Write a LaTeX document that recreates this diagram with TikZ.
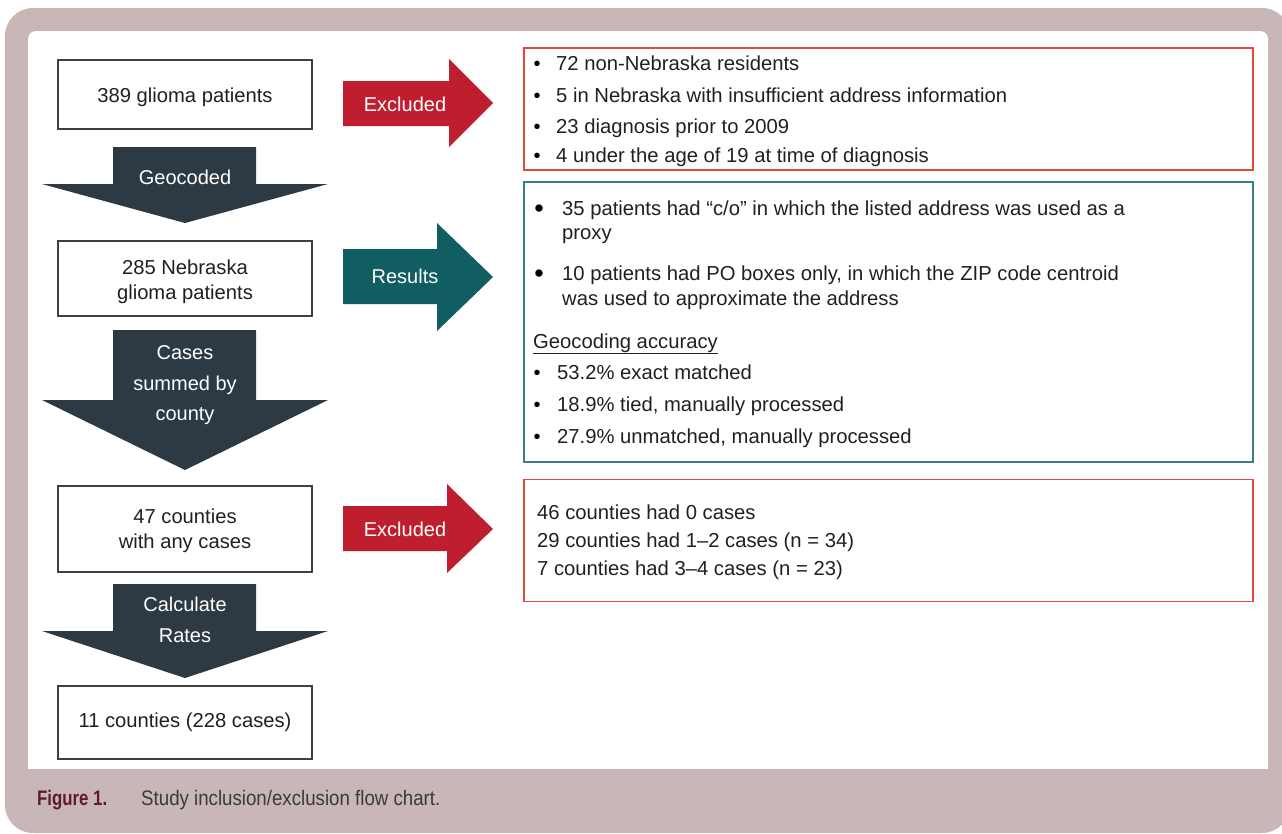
\documentclass[tikz,border=0pt]{standalone}
\usepackage{fontspec}
\setmainfont{Liberation Sans}
\definecolor{framec}{HTML}{C9B7B7}
\definecolor{redarrow}{HTML}{BE1E2D}
\definecolor{tealarrow}{HTML}{105E61}
\definecolor{darkarrow}{HTML}{2E3A43}
\definecolor{redborder}{HTML}{E2493B}
\definecolor{tealborder}{HTML}{3B8084}
\definecolor{boxgray}{HTML}{404040}
\definecolor{textc}{HTML}{231F20}
\definecolor{capmaroon}{HTML}{5E1B30}
\definecolor{captext}{HTML}{3A3A3A}
\tikzset{
  lbox/.style={draw=boxgray, line width=1.1pt, fill=white, minimum width=254pt, inner sep=0pt},
  ltxt/.style={anchor=base, inner sep=0pt, text=textc, font=\fontsize{20.2}{24}\selectfont},
  rbox/.style={line width=1.1pt, minimum width=729pt, inner sep=0pt},
  txt/.style={anchor=base west, inner sep=0pt, text=textc, font=\fontsize{20.25}{24}\selectfont},
  wtxt/.style={anchor=base, inner sep=0pt, text=white, font=\fontsize{20}{24}\selectfont},
  bul/.style={anchor=base, inner sep=0pt, text=black, font=\fontsize{20}{24}\selectfont},
}
\begin{document}
\begin{tikzpicture}[x=1pt,y=-1pt]
\useasboundingbox (0,0) rectangle (1282,833);
\clip (0,0) rectangle (1282,833);
% frame
\fill[framec, rounded corners=28pt] (5,8) rectangle (1290,833);
\fill[white, rounded corners=8pt] (28,790) -- (28,31) -- (1268,31) -- (1268,790) -- cycle;
\fill[framec] (20,769) rectangle (1275,800);
% left boxes
\node[lbox, minimum height=69pt] (b1) at (185,94.5) {};
\node[lbox, minimum height=75pt] (b2) at (185,278.5) {};
\node[lbox, minimum height=86pt] (b3) at (185,529) {};
\node[lbox, minimum height=73pt] (b4) at (185,722.5) {};
\node[ltxt] (b1t) at (185,102) {389 glioma patients};
\node[ltxt] (b2t1) at (185,274) {285 Nebraska};
\node[ltxt] (b2t2) at (185,299) {glioma patients};
\node[ltxt] (b3t1) at (185,523) {47 counties};
\node[ltxt] (b3t2) at (185,548) {with any cases};
\node[ltxt] (b4t) at (185,727) {11 counties (228 cases)};
% down arrows
\fill[darkarrow] (113,147) -- (256,147) -- (256,184) -- (328,184) -- (185,223) -- (42,184) -- (113,184) -- cycle;
\fill[darkarrow] (113,330) -- (256,330) -- (256,400) -- (328,400) -- (185,470) -- (42,400) -- (113,400) -- cycle;
\fill[darkarrow] (113,584) -- (256,584) -- (256,631) -- (328,631) -- (185,678) -- (42,631) -- (113,631) -- cycle;
\node[wtxt] (d1) at (185,184) {Geocoded};
\node[wtxt] (d2a) at (185,359) {Cases};
\node[wtxt] (d2b) at (185,390) {summed by};
\node[wtxt] (d2c) at (185,420) {county};
\node[wtxt] (d3a) at (185,611) {Calculate};
\node[wtxt] (d3b) at (185,642) {Rates};
% right arrows
\fill[redarrow] (343,81) -- (449,81) -- (449,59) -- (493,103) -- (449,147) -- (449,126) -- (343,126) -- cycle;
\fill[tealarrow] (343,249) -- (437,249) -- (437,223) -- (493,277) -- (437,331) -- (437,304) -- (343,304) -- cycle;
\fill[redarrow] (343,506) -- (447,506) -- (447,484) -- (493,529) -- (447,573) -- (447,551) -- (343,551) -- cycle;
\node[wtxt] (r1) at (405,111) {Excluded};
\node[wtxt] (r2) at (405,283) {Results};
\node[wtxt] (r3) at (405,536) {Excluded};
% right boxes
\node[rbox, draw=redborder, minimum height=122pt] (x1) at (888.5,109) {};
\node[rbox, draw=tealborder, minimum height=280pt] (x2) at (888.5,322) {};
\node[rbox, draw=redborder, minimum height=122pt] (x3) at (888.5,540.5) {};
% box 1 text
\node[bul] (x1b1) at (537,70) {•};
\node[txt] (x1t1) at (556,70) {72 non-Nebraska residents};
\node[bul] (x1b2) at (537,102) {•};
\node[txt] (x1t2) at (556,102) {5 in Nebraska with insufficient address information};
\node[bul] (x1b3) at (537,133) {•};
\node[txt] (x1t3) at (556,133) {23 diagnosis prior to 2009};
\node[bul] (x1b4) at (537,162) {•};
\node[txt] (x1t4) at (556,162) {4 under the age of 19 at time of diagnosis};
% box 2 text
\node[bul, scale=1.35] (x2b1) at (539,217) {•};
\node[txt] (x2t1) at (562,215) {35 patients had “c/o” in which the listed address was used as a};
\node[txt] (x2t1b) at (562,239) {proxy};
\node[bul, scale=1.35] (x2b2) at (539,282) {•};
\node[txt] (x2t2) at (562,280) {10 patients had PO boxes only, in which the ZIP code centroid};
\node[txt] (x2t2b) at (562,305) {was used to approximate the address};
\node[txt] (x2h) at (533,348) {\underline{Geocoding accuracy}};
\node[bul] (x2b3) at (537,379) {•};
\node[txt] (x2t3) at (557,379) {53.2\% exact matched};
\node[bul] (x2b4) at (537,411) {•};
\node[txt] (x2t4) at (557,411) {18.9\% tied, manually processed};
\node[bul] (x2b5) at (537,443) {•};
\node[txt] (x2t5) at (557,443) {27.9\% unmatched, manually processed};
% box 3 text
\node[txt] (x3t1) at (537,519) {46 counties had 0 cases};
\node[txt] (x3t2) at (537,547) {29 counties had 1–2 cases (n = 34)};
\node[txt] (x3t3) at (537,575) {7 counties had 3–4 cases (n = 23)};
% caption
\node[anchor=base west, inner sep=0pt, text=capmaroon, font=\fontsize{21}{24}\selectfont\bfseries] (capA) at (37,805) {\scalebox{0.8}[1]{Figure 1.}};
\node[anchor=base west, inner sep=0pt, text=captext, font=\fontsize{21}{24}\selectfont] (capB) at (141,805) {\scalebox{0.89}[1]{Study inclusion/exclusion flow chart.}};
\end{tikzpicture}
\end{document}
